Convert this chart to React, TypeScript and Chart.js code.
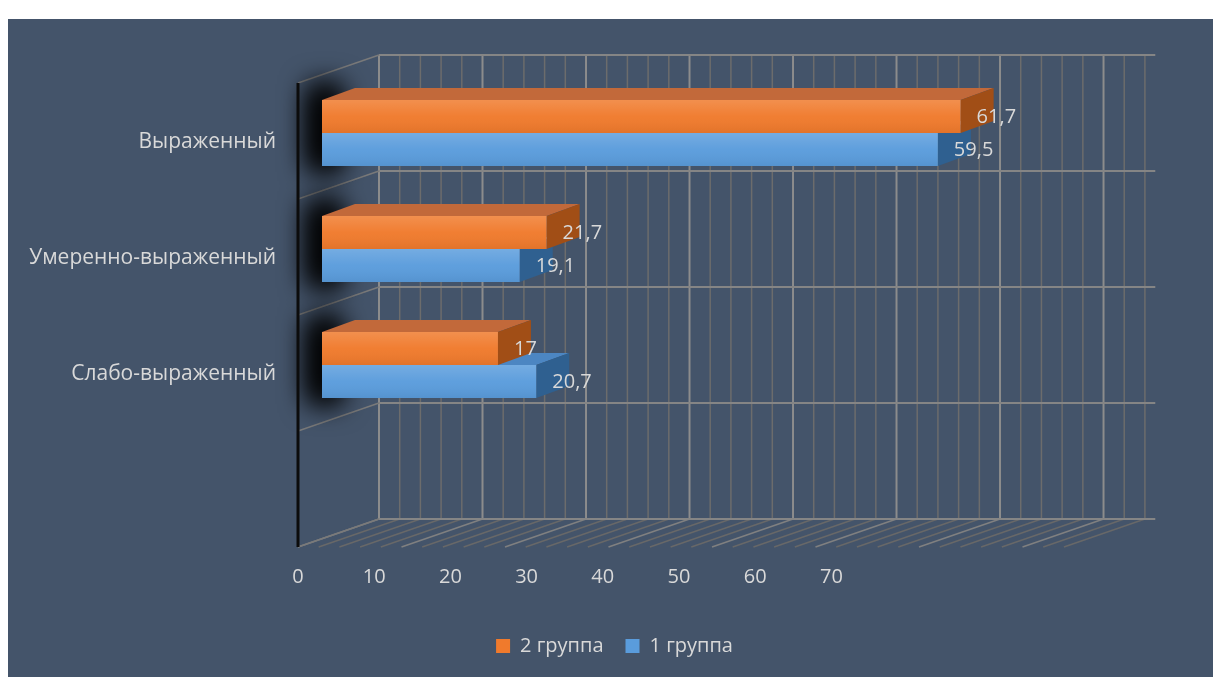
import React, { useEffect, useRef } from 'react';
import { Chart, registerables } from 'chart.js';

Chart.register(...registerables);

// ---- data ----
const categories = ['Выраженный', 'Умеренно-выраженный', 'Слабо-выраженный', ''];
const seriesNames = ['2 группа', '1 группа'];
const group2 = [61.7, 21.7, 17];
const group1 = [59.5, 19.1, 20.7];
const axisTicks = [0, 10, 20, 30, 40, 50, 60, 70];
const wallMax = 75;
const wallStep = 2;
const wallMajor = 10;

// ---- styles ----
const W = 1205;
const H = 658;
const BG = '#44546A';
const TEXT = '#D9D9D9';
const FONT = "'Open Sans', sans-serif";
const ORANGE = { front: '#F07A2C', top: '#C2693A', side: '#A14E16' };
const BLUE = { front: '#5A9CDC', top: '#4C86C2', side: '#2F6090' };
const BACK = { dx: 57, dy: -20 }; // bar plane -> back wall
const WALL = { dx: -81, dy: 28 }; // back wall -> front edge
const BAR = { dx: 33, dy: -12 }; // bar depth
const LEGEND_SHIFT = 33;

const fmt = (v: number) => String(v).replace('.', ',');

const threeD = {
  id: 'threeD',
  beforeDraw(chart: any) {
    const lg = chart.legend;
    if (lg && !lg._shifted) {
      lg.left += LEGEND_SHIFT;
      lg.right += LEGEND_SHIFT;
      lg._shifted = true;
    }
  },
  beforeDatasetsDraw(chart: any) {
    const { ctx, scales } = chart;
    const xs = scales.x;
    const ys = scales.y;
    const backX = (v: number) => xs.getPixelForValue(v) + BACK.dx;
    const rows: number[] = [];
    for (let i = 0; i <= categories.length; i++) rows.push(ys.getPixelForValue(i - 0.5) + BACK.dy);
    const yTop = rows[0];
    const yBot = rows[rows.length - 1];
    ctx.save();
    // back wall verticals + floor diagonals
    for (let v = 0; v < wallMax; v += wallStep) {
      const major = v % wallMajor === 0;
      ctx.strokeStyle = major ? '#8C8C8C' : '#6C6C6C';
      ctx.lineWidth = major ? 2 : 1.5;
      const x = backX(v);
      ctx.beginPath();
      ctx.moveTo(x, yTop);
      ctx.lineTo(x, yBot);
      ctx.stroke();
      ctx.strokeStyle = major ? '#808080' : '#686868';
      ctx.lineWidth = 1.5;
      ctx.beginPath();
      ctx.moveTo(x, yBot);
      ctx.lineTo(x + WALL.dx, yBot + WALL.dy);
      ctx.stroke();
    }
    // back wall horizontals + left wall
    rows.forEach((y) => {
      ctx.strokeStyle = '#858585';
      ctx.lineWidth = 2;
      ctx.beginPath();
      ctx.moveTo(backX(0), y);
      ctx.lineTo(backX(wallMax), y);
      ctx.stroke();
      ctx.strokeStyle = '#7A7A7A';
      ctx.lineWidth = 1.5;
      ctx.beginPath();
      ctx.moveTo(backX(0), y);
      ctx.lineTo(backX(0) + WALL.dx, y + WALL.dy);
      ctx.stroke();
    });
    // soft shadows of bar groups on the left wall
    const m0 = chart.getDatasetMeta(0);
    const m1 = chart.getDatasetMeta(1);
    m0.data.forEach((el: any, i: number) => {
      const a = el.getProps(['x', 'y', 'base', 'height'], true);
      const b = m1.data[i].getProps(['x', 'y', 'base', 'height'], true);
      const top = a.y - a.height / 2 + BAR.dy;
      const bottom = b.y + b.height / 2;
      ctx.save();
      const off = 10000;
      ctx.shadowColor = 'rgba(0,0,0,1)';
      ctx.shadowBlur = 28;
      ctx.shadowOffsetX = off;
      ctx.fillStyle = '#000';
      ctx.fillRect(a.base - 14 - off, top - 4, 34, bottom - top + 10);
      ctx.fillRect(a.base - 10 - off, top + 2, 24, bottom - top - 2);
      ctx.restore();
    });
    // front-left edge
    ctx.strokeStyle = '#0c0c0c';
    ctx.lineWidth = 3;
    ctx.beginPath();
    ctx.moveTo(backX(0) + WALL.dx, yTop + WALL.dy);
    ctx.lineTo(backX(0) + WALL.dx, yBot + WALL.dy);
    ctx.stroke();
    // faces: series 1 first, then series 2 on top
    const faces = (meta: any, col: any) => {
      meta.data.forEach((el: any) => {
        const { x, y, base, height } = el.getProps(['x', 'y', 'base', 'height'], true);
        const t = y - height / 2;
        const b = y + height / 2;
        ctx.fillStyle = col.top;
        ctx.beginPath();
        ctx.moveTo(base, t);
        ctx.lineTo(x, t);
        ctx.lineTo(x + BAR.dx, t + BAR.dy);
        ctx.lineTo(base + BAR.dx, t + BAR.dy);
        ctx.closePath();
        ctx.fill();
        ctx.fillStyle = col.side;
        ctx.beginPath();
        ctx.moveTo(x, t);
        ctx.lineTo(x + BAR.dx, t + BAR.dy);
        ctx.lineTo(x + BAR.dx, b + BAR.dy);
        ctx.lineTo(x, b);
        ctx.closePath();
        ctx.fill();
      });
    };
    faces(m1, BLUE);
    faces(m0, ORANGE);
    ctx.restore();
  },
  afterDatasetsDraw(chart: any) {
    const { ctx } = chart;
    ctx.save();
    [0, 1].forEach((d) => {
      chart.getDatasetMeta(d).data.forEach((el: any, i: number) => {
        const { x, y, base, height } = el.getProps(['x', 'y', 'base', 'height'], true);
        const t = y - height / 2;
        const g = ctx.createLinearGradient(0, t, 0, t + height);
        g.addColorStop(0, 'rgba(255,255,255,0.16)');
        g.addColorStop(0.5, 'rgba(255,255,255,0.03)');
        g.addColorStop(1, 'rgba(0,0,0,0.06)');
        ctx.fillStyle = g;
        ctx.fillRect(base, t, x - base, height);
        const v = chart.data.datasets[d].data[i];
        ctx.fillStyle = TEXT;
        ctx.font = `20px ${FONT}`;
        ctx.textAlign = 'left';
        ctx.textBaseline = 'middle';
        ctx.fillText(fmt(v), x + 16, y + 1);
      });
    });
    ctx.restore();
  },
};

export default function App() {
  const ref = useRef<HTMLCanvasElement>(null);
  useEffect(() => {
    const chart = new Chart(ref.current as HTMLCanvasElement, {
      type: 'bar',
      data: {
        labels: categories,
        datasets: [
          { label: seriesNames[0], data: group2, backgroundColor: ORANGE.front, borderWidth: 0, categoryPercentage: 0.569, barPercentage: 1 },
          { label: seriesNames[1], data: group1, backgroundColor: BLUE.front, borderWidth: 0, categoryPercentage: 0.569, barPercentage: 1 },
        ],
      },
      options: {
        indexAxis: 'y',
        animation: false,
        responsive: false,
        devicePixelRatio: 1,
        layout: { padding: { top: 56, right: 58, left: 0, bottom: 11 } },
        scales: {
          y: {
            type: 'category',
            offset: true,
            grid: { display: false, drawTicks: false },
            border: { display: false },
            ticks: { color: TEXT, font: { family: FONT, size: 21 }, padding: 22, labelOffset: 9 },
            afterFit: (s: any) => { s.width = 290; },
          },
          x: { type: 'linear', display: false, min: -2.319, max: 80.48 },
          xl: {
            type: 'linear',
            position: 'bottom',
            min: 0,
            max: 112.47,
            grid: { display: false, drawTicks: false },
            border: { display: false },
            ticks: { color: TEXT, font: { family: FONT, size: 20 }, padding: 26 },
            afterBuildTicks: (s: any) => { s.ticks = axisTicks.map((v) => ({ value: v })); },
            afterFit: (s: any) => { s.height = 75; },
          },
        },
        plugins: {
          legend: {
            position: 'bottom',
            labels: { color: TEXT, font: { family: FONT, size: 20 }, boxWidth: 14, boxHeight: 14, padding: 22 },
          },
          tooltip: { enabled: false },
        },
      },
      plugins: [threeD],
    } as any);
    return () => chart.destroy();
  }, []);
  return (
    <div style={{ position: 'fixed', left: 8, top: 19, width: W, height: H, background: BG }}>
      <canvas ref={ref} width={W} height={H} style={{ display: 'block' }} />
    </div>
  );
}
